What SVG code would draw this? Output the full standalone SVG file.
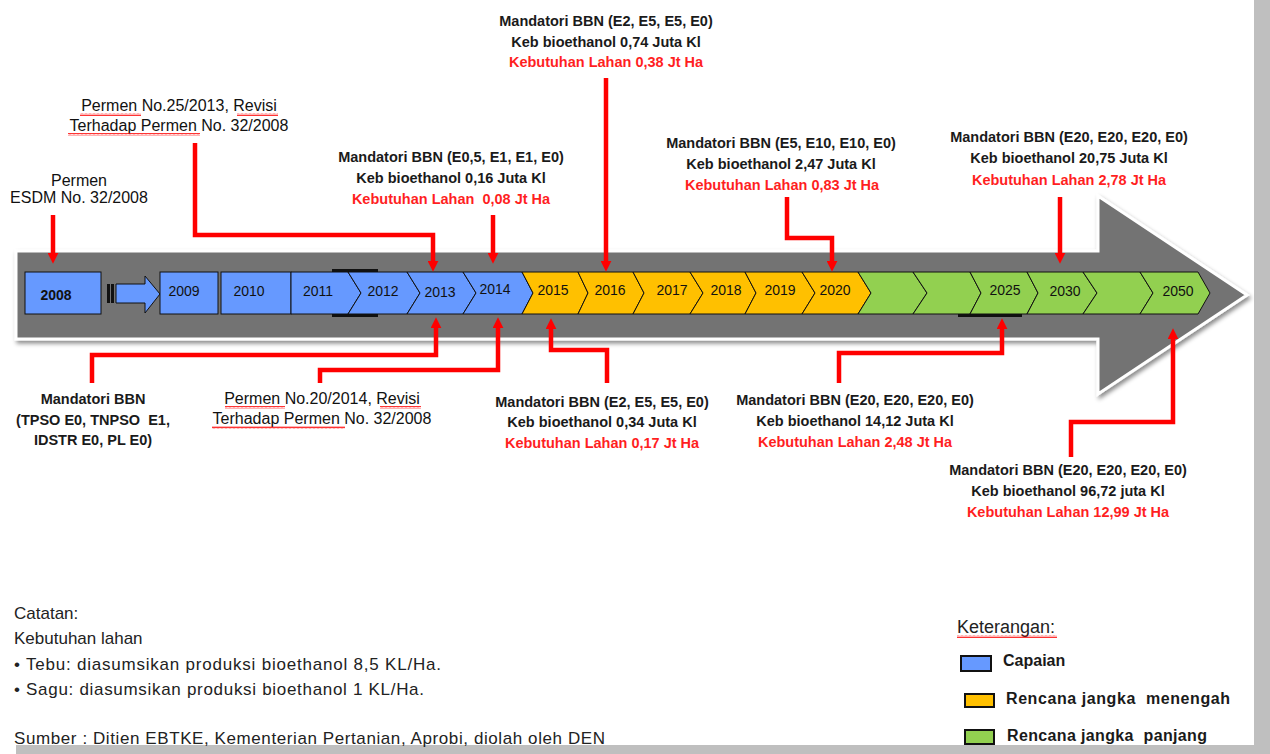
<svg xmlns="http://www.w3.org/2000/svg" width="1270" height="754" viewBox="0 0 1270 754">
<style>
text{font-family:"Liberation Sans",Arial,sans-serif}
.lbl{font-weight:bold;font-size:14.5px;fill:#1a1a1a;text-anchor:middle}
.rd{fill:#ff1f1f}
.perm{font-weight:normal;font-size:16px;fill:#111;text-anchor:middle}
.yr{font-size:14px;fill:#111;text-anchor:middle}
.cb{fill:#6699ff;stroke:#111;stroke-width:1}
.cy{fill:#ffc000;stroke:#111;stroke-width:1}
.cg{fill:#92d050;stroke:#111;stroke-width:1}
.conn{stroke:#ff0000;stroke-width:4.5;fill:none;stroke-linejoin:miter;marker-end:url(#ah)}
.note{font-size:17px;fill:#222}
.leg{font-size:16px;font-weight:bold;fill:#1a1a1a}
.sq{fill:url(#wavy)}
</style>
<defs>
<marker id="ah" viewBox="0 0 10 10" refX="3" refY="5" markerWidth="11" markerHeight="11" markerUnits="userSpaceOnUse" orient="auto">
<path d="M0,0 L10,5 L0,10 z" fill="#ff0000"/>
</marker>
<pattern id="wavy" width="4" height="3" patternUnits="userSpaceOnUse">
<path d="M0,2.4 L1,0.6 L2,2.4 L3,0.6 L4,2.4" stroke="#ff0000" stroke-width="0.8" fill="none"/>
</pattern>
<filter id="sh" x="-5%" y="-20%" width="110%" height="140%">
<feDropShadow dx="2" dy="3" stdDeviation="2" flood-color="#000" flood-opacity="0.45"/>
</filter>
</defs>
<rect width="1270" height="754" fill="#ffffff"/>
<rect x="1254" y="0" width="16" height="754" fill="#bfbfbf"/>
<rect x="16" y="745" width="1254" height="9" fill="#bfbfbf"/>

<g id="big-arrow">
<polygon points="16,251 1098,251 1098,196 1247,295 1098,394 1098,339 16,339" fill="#737373" stroke="#ffffff" stroke-width="3" filter="url(#sh)"/>
</g>

<g id="timeline">
<g id="y2008"><rect x="25" y="272" width="76" height="42" class="cb" stroke-width="1.5"/><text x="56" y="300" class="yr" font-weight="bold" font-size="16px">2008</text></g>
<g id="step-arrow">
<rect x="107" y="284" width="3" height="19" fill="#111"/>
<rect x="111" y="284" width="3" height="19" fill="#111"/>
<polygon points="116,284 145,284 145,276 160,294 145,313 145,303 116,303" class="cb"/>
</g>
<g id="y2009"><rect x="160" y="272" width="58" height="42" class="cb"/><text x="184" y="296" class="yr">2009</text></g>
<g id="y2010"><rect x="221" y="272" width="70" height="42" class="cb"/><text x="249" y="296" class="yr">2010</text></g>
<rect x="332" y="269" width="46" height="3" fill="#111"/>
<rect x="332" y="314" width="46" height="3" fill="#111"/>
<g id="y2011"><polygon points="291,272 348,272 361,293 348,314 291,314" class="cb"/><text x="318" y="296" class="yr">2011</text></g>
<g id="y2012"><polygon points="348,272 407,272 420,293 407,314 348,314 361,293" class="cb"/><text x="383" y="296" class="yr">2012</text></g>
<g id="y2013"><polygon points="407,272 463,272 476,293 463,314 407,314 420,293" class="cb"/><text x="440" y="297" class="yr">2013</text></g>
<g id="y2014"><polygon points="463,272 522,272 533,293 522,314 463,314 476,293" class="cb"/><text x="495" y="294" class="yr">2014</text></g>
<g id="y2015"><polygon points="522,272 578,272 588,293 578,314 522,314 533,293" class="cy"/><text x="553" y="295" class="yr">2015</text></g>
<g id="y2016"><polygon points="578,272 633,272 644,293 633,314 578,314 588,293" class="cy"/><text x="610" y="295" class="yr">2016</text></g>
<g id="y2017"><polygon points="633,272 690,272 703,293 690,314 633,314 644,293" class="cy"/><text x="672" y="295" class="yr">2017</text></g>
<g id="y2018"><polygon points="690,272 745,272 756,293 745,314 690,314 703,293" class="cy"/><text x="726" y="295" class="yr">2018</text></g>
<g id="y2019"><polygon points="745,272 802,272 815,293 802,314 745,314 756,293" class="cy"/><text x="780" y="295" class="yr">2019</text></g>
<g id="y2020"><polygon points="802,272 858,272 871,293 858,314 802,314 815,293" class="cy"/><text x="835" y="295" class="yr">2020</text></g>
<g id="g1"><polygon points="858,272 913,272 927,293 913,314 858,314 871,293" class="cg"/></g>
<g id="g2"><polygon points="913,272 970,272 981,293 970,314 913,314 927,293" class="cg"/></g>
<rect x="958" y="314" width="64" height="3" fill="#111"/>
<g id="y2025"><polygon points="970,272 1027,272 1038,293 1027,314 970,314 981,293" class="cg"/><text x="1005" y="295" class="yr">2025</text></g>
<g id="y2030"><polygon points="1027,272 1083,272 1097,293 1083,314 1027,314 1038,293" class="cg"/><text x="1065" y="296" class="yr">2030</text></g>
<g id="g5"><polygon points="1083,272 1140,272 1153,293 1140,314 1083,314 1097,293" class="cg"/></g>
<g id="y2050"><polygon points="1140,272 1198,272 1210,293 1198,314 1140,314 1153,293" class="cg"/><text x="1178" y="296" class="yr">2050</text></g>
</g>

<g id="connectors">
<path class="conn" d="M53,215 V256"/>
<path class="conn" d="M195,143 V235 H433 V264"/>
<path class="conn" d="M493,215 V256"/>
<path class="conn" d="M606,78 V264"/>
<path class="conn" d="M787,197 V238 H832 V264"/>
<path class="conn" d="M1060,197 V256"/>
<path class="conn" d="M92,383 V355 H436 V325"/>
<path class="conn" d="M320,383 V370 H498 V325"/>
<path class="conn" d="M607,383 V350 H551 V326"/>
<path class="conn" d="M839,383 V353 H1002 V326"/>
<path class="conn" d="M1071,457 V422 H1173 V336"/>
</g>

<g id="n-permen-2008">
<text x="79" y="186" class="perm">Permen</text>
<text x="79" y="203" class="perm">ESDM No. 32/2008</text>
</g>
<g id="n-permen-25">
<text x="179" y="111" class="perm">Permen No.25/2013, Revisi</text>
<text x="179" y="131" class="perm">Terhadap Permen No. 32/2008</text>
<rect x="80" y="113" width="61" height="3" class="sq"/>
<rect x="237" y="113" width="41" height="3" class="sq"/>
<rect x="68" y="133" width="132" height="3" class="sq"/>
</g>
<g id="n-2014-top">
<text x="451" y="162" class="lbl">Mandatori BBN (E0,5, E1, E1, E0)</text>
<text x="451" y="183" class="lbl">Keb bioethanol 0,16 Juta Kl</text>
<text x="451" y="204" class="lbl rd" xml:space="preserve">Kebutuhan Lahan  0,08 Jt Ha</text>
</g>
<g id="n-2016-top">
<text x="606" y="26" class="lbl">Mandatori BBN (E2, E5, E5, E0)</text>
<text x="606" y="47" class="lbl">Keb bioethanol 0,74 Juta Kl</text>
<text x="606" y="67" class="lbl rd">Kebutuhan Lahan 0,38 Jt Ha</text>
</g>
<g id="n-2020-top">
<text x="781" y="148" class="lbl">Mandatori BBN (E5, E10, E10, E0)</text>
<text x="781" y="169" class="lbl">Keb bioethanol 2,47 Juta Kl</text>
<text x="782" y="190" class="lbl rd">Kebutuhan Lahan 0,83 Jt Ha</text>
</g>
<g id="n-2030-top">
<text x="1069" y="142" class="lbl">Mandatori BBN (E20, E20, E20, E0)</text>
<text x="1069" y="163" class="lbl">Keb bioethanol 20,75 Juta Kl</text>
<text x="1069" y="185" class="lbl rd">Kebutuhan Lahan 2,78 Jt Ha</text>
</g>
<g id="n-2013-bottom">
<text x="93" y="404" class="lbl">Mandatori BBN</text>
<text x="93" y="425" class="lbl" xml:space="preserve">(TPSO E0, TNPSO  E1,</text>
<text x="93" y="445" class="lbl">IDSTR E0, PL E0)</text>
</g>
<g id="n-permen-20">
<text x="322" y="404" class="perm">Permen No.20/2014, Revisi</text>
<text x="322" y="424" class="perm">Terhadap Permen No. 32/2008</text>
<rect x="225" y="406" width="60" height="3" class="sq"/>
<rect x="380" y="406" width="41" height="3" class="sq"/>
<rect x="212" y="426" width="133" height="3" class="sq"/>
</g>
<g id="n-2015-bottom">
<text x="602" y="407" class="lbl">Mandatori BBN (E2, E5, E5, E0)</text>
<text x="602" y="427" class="lbl">Keb bioethanol 0,34 Juta Kl</text>
<text x="602" y="448" class="lbl rd">Kebutuhan Lahan 0,17 Jt Ha</text>
</g>
<g id="n-2025-bottom">
<text x="855" y="405" class="lbl">Mandatori BBN (E20, E20, E20, E0)</text>
<text x="855" y="426" class="lbl">Keb bioethanol 14,12 Juta Kl</text>
<text x="855" y="447" class="lbl rd">Kebutuhan Lahan 2,48 Jt Ha</text>
</g>
<g id="n-2050-bottom">
<text x="1068" y="475" class="lbl">Mandatori BBN (E20, E20, E20, E0)</text>
<text x="1068" y="496" class="lbl">Keb bioethanol 96,72 juta Kl</text>
<text x="1068" y="517" class="lbl rd">Kebutuhan Lahan 12,99 Jt Ha</text>
</g>

<g id="notes">
<text x="14" y="619" class="note">Catatan:</text>
<text x="14" y="644" class="note">Kebutuhan lahan</text>
<text x="14" y="670" class="note" textLength="427">• Tebu: diasumsikan produksi bioethanol 8,5 KL/Ha.</text>
<text x="14" y="695" class="note" textLength="410">• Sagu: diasumsikan produksi bioethanol 1 KL/Ha.</text>
<text x="14" y="744" class="note" textLength="591">Sumber : Ditien EBTKE, Kementerian Pertanian, Aprobi, diolah oleh DEN</text>
</g>

<g id="legend">
<text x="957" y="633" font-size="18px" fill="#222">Keterangan:</text>
<rect x="957" y="635" width="100" height="3" class="sq"/>
<rect x="961" y="656" width="30" height="15" fill="#6699ff" stroke="#111" stroke-width="2"/>
<text x="1003" y="666" class="leg">Capaian</text>
<rect x="965" y="694" width="29" height="13" fill="#ffc000" stroke="#111" stroke-width="2"/>
<text x="1006" y="704" class="leg" xml:space="preserve" textLength="224">Rencana jangka  menengah</text>
<rect x="965" y="730" width="29" height="14" fill="#92d050" stroke="#111" stroke-width="2"/>
<text x="1007" y="741" class="leg" xml:space="preserve" textLength="200">Rencana jangka  panjang</text>
</g>
</svg>
